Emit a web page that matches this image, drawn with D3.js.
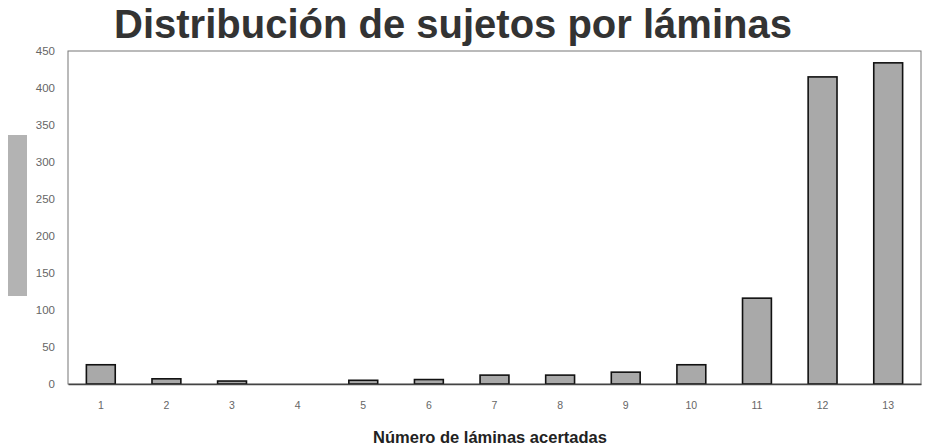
<!DOCTYPE html>
<html>
<head>
<meta charset="utf-8">
<script src="https://cdn.jsdelivr.net/npm/d3@7"></script>
<style>
  body { margin: 0; background: #fff; }
  svg { display: block; font-family: "Liberation Sans", Arial, sans-serif; }
</style>
</head>
<body>
<div id="main"></div>
<script>
const laminas = ["1", "2", "3", "4", "5", "6", "7", "8", "9", "10", "11", "12", "13"];
const sujetos = [26, 7, 4, 0, 5, 6, 12, 12, 16, 26, 116, 415, 434];
const yTicks = [0, 50, 100, 150, 200, 250, 300, 350, 400, 450];

const W = 925, H = 448;
const box = { upper: 51, lower: 64, left: 68, right: 4 };
const width = W - box.left - box.right;
const height = H - box.upper - box.lower;

const svgContainer = d3.select("#main")
  .append("svg")
  .attr("width", W)
  .attr("height", H);

svgContainer.append("text")
  .attr("x", 453)
  .attr("y", 38)
  .attr("text-anchor", "middle")
  .attr("font-size", 40)
  .attr("font-weight", "bold")
  .attr("fill", "#333")
  .text("Distribución de sujetos por láminas");

// leftover grey legend swatch
svgContainer.append("rect")
  .attr("x", 8).attr("y", 135)
  .attr("width", 19).attr("height", 161)
  .attr("fill", "#b3b3b3");

const svg = svgContainer.append("g")
  .attr("transform", `translate(${box.left}, ${box.upper})`);

const x = d3.scaleBand().domain(laminas).range([0, width]).paddingInner(0.56).paddingOuter(0.28);
const y = d3.scaleLinear().domain([0, 450]).range([height, 0]);

svg.append("rect")
  .attr("width", width)
  .attr("height", height)
  .attr("fill", "none")
  .attr("stroke", "#777")
  .attr("stroke-width", 1);

svg.selectAll("rect.bar")
  .data(sujetos)
  .enter()
  .append("rect")
  .attr("class", "bar")
  .attr("x", (d, i) => x(laminas[i]))
  .attr("y", d => y(d))
  .attr("width", x.bandwidth())
  .attr("height", d => height - y(d))
  .attr("fill", "#a9a9a9")
  .attr("stroke", "#111")
  .attr("stroke-width", 1.6);

const yAxis = svg.append("g")
  .attr("color", "#666")
  .call(d3.axisLeft(y).tickValues(yTicks).tickSize(0).tickPadding(13));
yAxis.select(".domain").remove();
yAxis.selectAll("text").attr("font-size", 11.5).attr("fill", "#666").attr("font-family", "Liberation Sans, Arial, sans-serif");

const xAxis = svg.append("g")
  .attr("color", "#666")
  .attr("transform", `translate(0, ${height})`)
  .call(d3.axisBottom(x).tickSize(0).tickPadding(18));
xAxis.select(".domain").attr("stroke", "#444").attr("stroke-width", 1.5);
xAxis.selectAll("text").attr("font-size", 10.5).attr("fill", "#666").attr("font-family", "Liberation Sans, Arial, sans-serif");

svgContainer.append("text")
  .attr("x", 490)
  .attr("y", 443)
  .attr("text-anchor", "middle")
  .attr("font-size", 16.5)
  .attr("font-weight", "bold")
  .attr("fill", "#222")
  .text("Número de láminas acertadas");
</script>
</body>
</html>
